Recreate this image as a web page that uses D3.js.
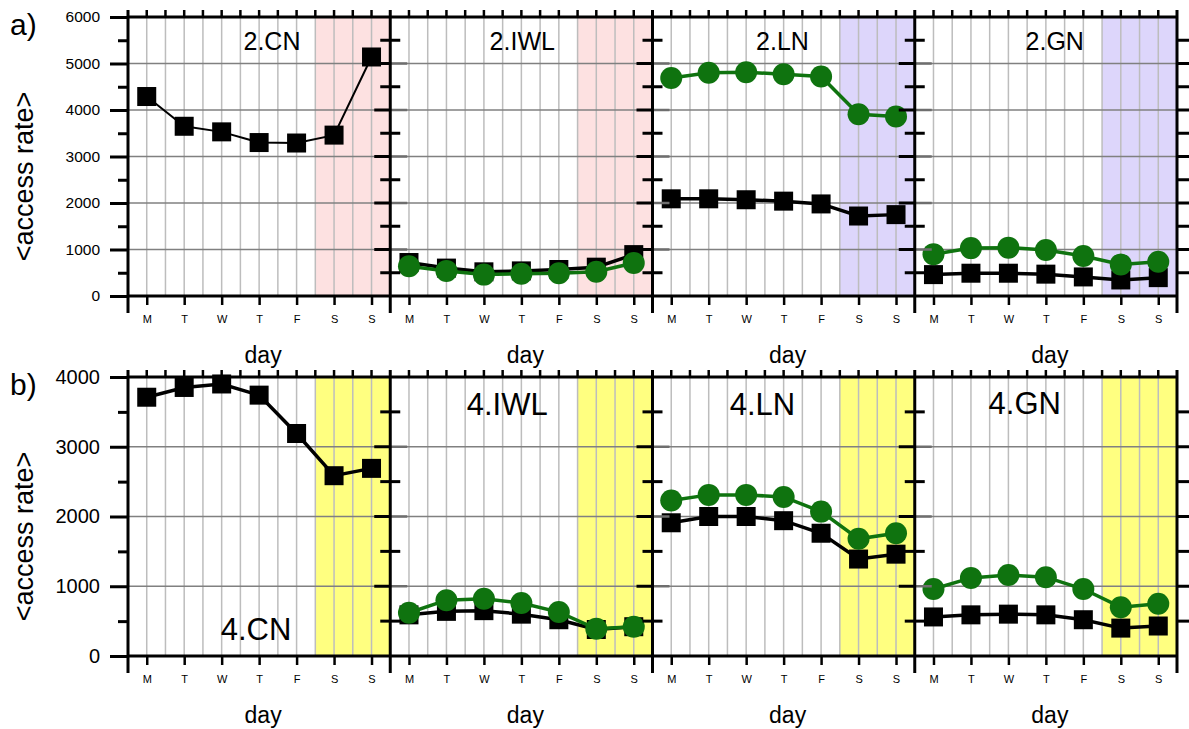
<!DOCTYPE html>
<html lang="en">
<head>
<meta charset="utf-8">
<title>access rate per day</title>
<script src="https://cdn.jsdelivr.net/npm/d3@7"></script>
<style>
  body { margin: 0; background: #fff; }
  svg text { font-family: "Liberation Sans", Arial, sans-serif; fill: #000; }
</style>
</head>
<body>
<div id="chart"></div>
<script>
// ---- data ----
const days = ["M", "T", "W", "T", "F", "S", "S"];
const topTitles = ["2.CN", "2.IWL", "2.LN", "2.GN"];
const bottomTitles = ["4.CN", "4.IWL", "4.LN", "4.GN"];
const topTicks = [0, 1000, 2000, 3000, 4000, 5000, 6000];
const bottomTicks = [0, 1000, 2000, 3000, 4000];

// black squares / green circles
const cn2Black  = [4290, 3650, 3530, 3300, 3290, 3460, 5140];
const iwl2Black = [720, 600, 520, 540, 570, 620, 890];
const iwl2Green = [640, 540, 460, 480, 490, 520, 710];
const ln2Black  = [2090, 2090, 2070, 2040, 1980, 1720, 1750];
const ln2Green  = [4690, 4800, 4810, 4770, 4720, 3910, 3860];
const gn2Black  = [460, 490, 490, 470, 410, 345, 395];
const gn2Green  = [900, 1030, 1040, 990, 860, 680, 735];

const cn4Black  = [3710, 3850, 3900, 3740, 3190, 2585, 2690];
const iwl4Black = [590, 640, 650, 600, 520, 380, 420];
const iwl4Green = [620, 800, 820, 760, 630, 390, 420];
const ln4Black  = [1910, 2000, 2000, 1940, 1760, 1390, 1460];
const ln4Green  = [2230, 2310, 2310, 2280, 2070, 1680, 1760];
const gn4Black  = [560, 590, 600, 590, 520, 400, 430];
const gn4Green  = [960, 1120, 1160, 1130, 960, 700, 750];

// ---- layout ----
const W = 1189, H = 729;
const green = "#0f730f";

const rows = [
  {
    tag: "a)", tagY: 35, top: 17, bottom: 296, ticks: topTicks,
    tickFont: 15.5, titleFont: 25, titles: topTitles,
    black: [cn2Black, iwl2Black, ln2Black, gn2Black],
    green: [null, iwl2Green, ln2Green, gn2Green],
    lineW: [2, 3.5, 3.5, 3.5],
    shade: ["#fde1e1", "#fde1e1", "#ddd6fb", "#ddd6fb"],
    titleDx: [144, 132, 130, 140], titleY: [50, 50, 50, 50]
  },
  {
    tag: "b)", tagY: 395, top: 377, bottom: 656, ticks: bottomTicks,
    tickFont: 20, titleFont: 31, titles: bottomTitles,
    black: [cn4Black, iwl4Black, ln4Black, gn4Black],
    green: [null, iwl4Green, ln4Green, gn4Green],
    lineW: [3.5, 3.5, 3.5, 3.5],
    shade: ["#ffff80", "#ffff80", "#ffff80", "#ffff80"],
    titleDx: [128, 117, 110, 110], titleY: [640, 415, 415, 414]
  }
];

const svg = d3.select("#chart").append("svg")
    .attr("width", W)
    .attr("height", H);

const panelX = d3.scaleLinear().domain([0, 4]).range([128, 1177]);
const bgLayer = svg.append("g");
const dataLayer = svg.append("g");
const frameLayer = svg.append("g");

rows.forEach(row => {
  const maxV = row.ticks[row.ticks.length - 1];
  const y = d3.scaleLinear().domain([0, maxV]).range([row.bottom, row.top]);
  const minor = d3.range(500, maxV, 1000);
  const inner = row.ticks.slice(1, -1);

  // row labels
  svg.append("text")
      .attr("x", 10).attr("y", row.tagY)
      .style("font-size", "30px")
      .text(row.tag);
  svg.append("text")
      .attr("transform", `translate(33,${(row.top + row.bottom) / 2 + 20}) rotate(-90)`)
      .attr("text-anchor", "middle")
      .style("font-size", "27px")
      .text("<access rate>");

  for (let p = 0; p < 4; p++) {
    const x = d3.scaleLinear().domain([-0.5, 6.5]).range([panelX(p), panelX(p + 1)]);

    // weekend band
    bgLayer.append("rect")
        .attr("x", x(4.5)).attr("y", y(maxV))
        .attr("width", x(6.5) - x(4.5))
        .attr("height", y(0) - y(maxV))
        .attr("fill", row.shade[p]);

    // grid
    bgLayer.selectAll(null)
      .data(d3.range(0, 6.25, 0.5))
      .join("line")
        .attr("x1", d => x(d)).attr("x2", d => x(d))
        .attr("y1", y(maxV)).attr("y2", y(0))
        .attr("stroke", "#bdbdbd")
        .attr("stroke-width", 1.5);
    bgLayer.selectAll(null)
      .data(inner)
      .join("line")
        .attr("x1", x(-0.5)).attr("x2", x(6.5))
        .attr("y1", d => y(d)).attr("y2", d => y(d))
        .attr("stroke", "#808080")
        .attr("stroke-width", 1.5);

    // series: black squares first, green circles on top
    const line = d3.line().x((d, i) => x(i)).y(d => y(d));
    const blk = row.black[p];
    dataLayer.append("path")
        .datum(blk)
        .attr("d", line)
        .attr("fill", "none")
        .attr("stroke", "#000")
        .attr("stroke-width", row.lineW[p]);
    dataLayer.selectAll(null)
      .data(blk)
      .join("rect")
        .attr("x", (d, i) => x(i) - 9.5)
        .attr("y", d => y(d) - 9.5)
        .attr("width", 19).attr("height", 19)
        .attr("fill", "#000");

    const grn = row.green[p];
    if (grn) {
      dataLayer.append("path")
          .datum(grn)
          .attr("d", line)
          .attr("fill", "none")
          .attr("stroke", green)
          .attr("stroke-width", row.lineW[p]);
      dataLayer.selectAll(null)
        .data(grn)
        .join("circle")
          .attr("cx", (d, i) => x(i))
          .attr("cy", d => y(d))
          .attr("r", 11)
          .attr("fill", green);
    }

    // panel title
    frameLayer.append("text")
        .attr("x", panelX(p) + row.titleDx[p])
        .attr("y", row.titleY[p])
        .attr("text-anchor", "middle")
        .style("font-size", row.titleFont + "px")
        .text(row.titles[p]);

    // day axis
    const ax = frameLayer.append("g")
        .attr("transform", `translate(0,${row.bottom})`)
        .call(d3.axisBottom(x).tickValues(d3.range(7)).tickSize(9).tickPadding(10)
          .tickFormat(i => days[i]));
    ax.select(".domain").remove();
    ax.selectAll("line").attr("stroke-width", 2.5);
    ax.selectAll("text").style("font-size", "11px").style("font-family", null);

    frameLayer.append("text")
        .attr("x", (panelX(p) + panelX(p + 1)) / 2 + 4)
        .attr("y", row.bottom + 67)
        .attr("text-anchor", "middle")
        .style("font-size", "23px")
        .text("day");

    // small ticks along the top edge
    frameLayer.selectAll(null)
      .data(d3.range(0, 6.25, 0.5))
      .join("line")
        .attr("x1", d => x(d)).attr("x2", d => x(d))
        .attr("y1", row.top - 7).attr("y2", row.top)
        .attr("stroke", "#000")
        .attr("stroke-width", 2.5);
  }

  // left axis with labels
  const left = frameLayer.append("g")
      .attr("transform", `translate(${panelX(0)},0)`)
      .call(d3.axisLeft(y).tickValues(row.ticks).tickSize(18).tickPadding(10)
        .tickFormat(d3.format("d")));
  left.select(".domain").remove();
  left.selectAll("line").attr("stroke-width", 3);
  left.selectAll("text").style("font-size", row.tickFont + "px").style("font-family", null);
  const leftMinor = frameLayer.append("g")
      .attr("transform", `translate(${panelX(0)},0)`)
      .call(d3.axisLeft(y).tickValues(minor).tickSize(10).tickFormat(""));
  leftMinor.select(".domain").remove();
  leftMinor.selectAll("line").attr("stroke-width", 3);

  // ticks on the panel boundaries
  for (let b = 1; b <= 4; b++) {
    const bx = panelX(b);
    if (b < 4) {
      frameLayer.selectAll(null).data(inner).join("line")
          .attr("x1", bx).attr("x2", bx + 17)
          .attr("y1", d => y(d)).attr("y2", d => y(d))
          .attr("stroke", "#6e6e6e").attr("stroke-width", 2.5);
      frameLayer.selectAll(null).data(inner).join("line")
          .attr("x1", bx - 16).attr("x2", bx)
          .attr("y1", d => y(d)).attr("y2", d => y(d))
          .attr("stroke", "#000").attr("stroke-width", 3);
      frameLayer.selectAll(null).data(minor).join("line")
          .attr("x1", bx - 10).attr("x2", bx + 10)
          .attr("y1", d => y(d)).attr("y2", d => y(d))
          .attr("stroke", "#000").attr("stroke-width", 3);
    } else {
      frameLayer.selectAll(null).data(inner.concat(minor)).join("line")
          .attr("x1", bx).attr("x2", bx + 12)
          .attr("y1", d => y(d)).attr("y2", d => y(d))
          .attr("stroke", "#000").attr("stroke-width", 3);
    }
  }

  // frame
  [row.top, row.bottom].forEach(yy => {
    frameLayer.append("line")
        .attr("x1", panelX(0)).attr("x2", panelX(4))
        .attr("y1", yy).attr("y2", yy)
        .attr("stroke", "#000").attr("stroke-width", 3);
  });
  d3.range(5).forEach(b => {
    frameLayer.append("line")
        .attr("x1", panelX(b)).attr("x2", panelX(b))
        .attr("y1", row.top - 7).attr("y2", row.bottom + 17)
        .attr("stroke", "#000").attr("stroke-width", 3);
  });
});
</script>
</body>
</html>
